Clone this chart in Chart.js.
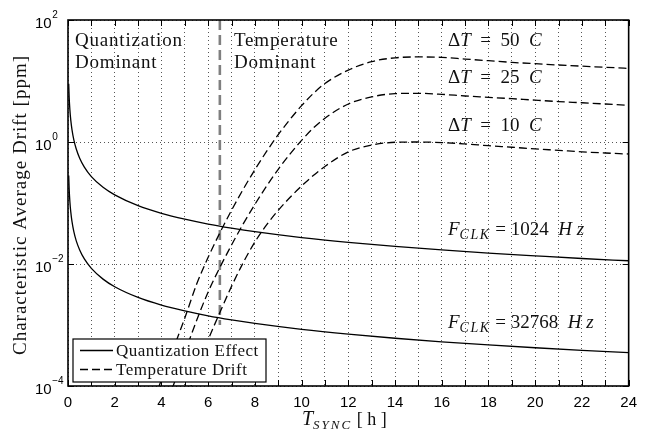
<!DOCTYPE html>
<html>
<head>
<meta charset="utf-8">
<script src="https://cdn.jsdelivr.net/npm/chart.js@4.4.1/dist/chart.umd.min.js"></script>
<style>
html,body{margin:0;padding:0;background:#fff;}
#wrap{width:645px;height:430px;}
</style>
</head>
<body>
<div id="wrap"><canvas id="myChart" width="645" height="430"></canvas></div>
<script>
// T_SYNC [h] for the quantization curves
const tQ = [0.03,0.05,0.08,0.12,0.17,0.25,0.35,0.5,0.7,1,1.5,2,3,4,5,6,7,8,10,12,14,16,18,20,22,24]
const q1024 = [9.04,5.43,3.39,2.26,1.6,1.085,0.775,0.543,0.388,0.271,0.181,0.136,0.0904,0.0678,0.0543,0.0452,0.0388,0.0339,0.0271,0.0226,0.0194,0.017,0.0151,0.0136,0.0123,0.0113]
const q32768 = [0.283,0.17,0.106,0.0707,0.0499,0.0339,0.0242,0.017,0.0121,0.00848,0.00565,0.00424,0.00283,0.00212,0.0017,0.00141,0.00121,0.00106,0.000848,0.000707,0.000606,0.00053,0.000471,0.000424,0.000385,0.000353]

// T_SYNC [h] for the temperature drift curves
const tD = [3.9,4.5,5,5.5,6,6.5,7,7.5,8,8.5,9,9.5,10,10.5,11,12,13,14,15,16,17,18,19,20,21,22,23,24]
const d50 = [1.0e-4,4.0e-4,1.3e-3,4.6e-3,0.0129,0.0324,0.0759,0.168,0.351,0.70,1.32,2.34,3.94,6.24,9.12,15.1,20.8,24.0,24.8,24.4,22.9,21.5,20.2,19.2,18.3,17.5,16.8,16.1]
const d25 = [2.5e-5,1.0e-4,3.5e-4,1.17e-3,3.49e-3,8.76e-3,0.0205,0.0454,0.0949,0.189,0.357,0.632,1.065,1.69,2.46,4.2,5.5,6.2,6.28,6.05,5.68,5.4,5.13,4.85,4.6,4.4,4.2,4.0]
const d10 = [4.0e-6,1.6e-5,5.0e-5,1.8e-4,5.7e-4,1.6e-3,4.3e-3,0.0105,0.0229,0.0437,0.0759,0.123,0.19,0.282,0.398,0.69,0.89,0.99,1.0,0.98,0.93,0.87,0.82,0.77,0.73,0.69,0.66,0.635]

// boundary between the two regions
const boundaryT = [6.5,6.5]
const boundaryY = [100,0.001]

const yTickValues = [1e-4,1e-2,1,1e2]
const yTickExp = ['−4','−2','0','2']

const ctx = document.getElementById('myChart')
const serif = '"Liberation Serif", "Times New Roman", serif'
const sans = '"Liberation Sans", Arial, sans-serif'

const pts = (xs, ys) => xs.map((x, i) => ({x: x, y: ys[i]}))

const drawRuns = (c, x, y, runs) => {
    let cx = x
    runs.forEach(r => {
        c.font = r.font
        c.letterSpacing = r.ls || '0px'
        c.fillText(r.t, cx, y + (r.dy || 0))
        cx += c.measureText(r.t).width
    })
    c.letterSpacing = '0px'
}

const decor = {
    id: 'decor',
    afterDatasetsDraw(chart) {
        const c = chart.ctx
        const a = chart.chartArea
        const xs = chart.scales.x
        const ys = chart.scales.y
        c.save()
        // frame
        c.strokeStyle = '#000'
        c.lineWidth = 1.6
        c.setLineDash([])
        c.strokeRect(a.left, a.top, a.right - a.left, a.bottom - a.top)
        // inward ticks
        c.lineWidth = 1
        c.beginPath()
        for (let v = 0; v <= 24; v++) {
            const px = Math.round(xs.getPixelForValue(v)) + 0.5
            c.moveTo(px, a.bottom); c.lineTo(px, a.bottom - 6)
            c.moveTo(px, a.top); c.lineTo(px, a.top + 6)
        }
        yTickValues.forEach(v => {
            const py = Math.round(ys.getPixelForValue(v)) + 0.5
            c.moveTo(a.left, py); c.lineTo(a.left + 6, py)
            c.moveTo(a.right, py); c.lineTo(a.right - 6, py)
        })
        c.stroke()

        // y tick labels with superscript exponents
        c.fillStyle = '#000'
        c.textAlign = 'left'
        c.textBaseline = 'alphabetic'
        yTickValues.forEach((v, i) => {
            const py = ys.getPixelForValue(v)
            c.font = '15px ' + sans
            c.fillText('10', 35, py + 7.5)
            const w = c.measureText('10').width
            c.font = '10px ' + sans
            c.fillText(yTickExp[i], 35 + w + 0.5, py - 2.5)
        })

        // region texts
        c.fillStyle = '#111'
        c.letterSpacing = '0.8px'
        c.font = '19px ' + serif
        c.fillText('Quantization', 75, 46)
        c.fillText('Dominant', 75, 68)
        c.fillText('Temperature', 234, 46)
        c.fillText('Dominant', 234, 68)
        c.letterSpacing = '0px'

        const up = '19px ' + serif
        const it = 'italic 19px ' + serif
        const sub = 'italic 14px ' + serif
        const dT = (y, n) => drawRuns(c, 448, y, [
            {t: 'Δ', font: up}, {t: 'T', font: it}, {t: '  =  ' + n + '  ', font: up}, {t: 'C', font: it}
        ])
        dT(46, '50')
        dT(83, '25')
        dT(131, '10')
        const fc = (y, n) => drawRuns(c, 448, y, [
            {t: 'F', font: it}, {t: 'CLK', font: sub, dy: 4, ls: '1.5px'}, {t: ' = ' + n + '  ', font: up},
            {t: 'H', font: it}, {t: ' z', font: it}
        ])
        fc(235, '1024')
        fc(328, '32768')

        // legend
        c.fillStyle = '#fff'
        c.fillRect(73, 339, 193, 43)
        c.strokeStyle = '#000'
        c.lineWidth = 1.2
        c.strokeRect(73, 339, 193, 43)
        c.lineWidth = 1.3
        c.beginPath(); c.moveTo(80, 350.5); c.lineTo(113, 350.5); c.stroke()
        c.setLineDash([8, 4])
        c.beginPath(); c.moveTo(80, 369.5); c.lineTo(113, 369.5); c.stroke()
        c.setLineDash([])
        c.fillStyle = '#111'
        c.font = '17px ' + serif
        c.letterSpacing = '0.5px'
        c.fillText('Quantization Effect', 116, 356)
        c.fillText('Temperature Drift', 116, 375)
        c.letterSpacing = '0px'

        // axis titles
        drawRuns(c, 302, 425, [
            {t: 'T', font: 'italic 20px ' + serif}, {t: 'SYNC', font: 'italic 13px ' + serif, dy: 4, ls: '2px'},
            {t: ' [ h ]', font: '18px ' + serif}
        ])
        c.save()
        c.translate(26, (a.top + a.bottom) / 2 + 2)
        c.rotate(-Math.PI / 2)
        c.textAlign = 'center'
        c.font = '19px ' + serif
        c.letterSpacing = '1px'
        c.fillText('Characteristic Average Drift [ppm]', 0, 0)
        c.restore()
        c.restore()
    }
}

const solid = {borderColor: '#000', borderWidth: 1.3, pointRadius: 0, fill: false, cubicInterpolationMode: 'monotone'}
const dashed = {borderColor: '#000', borderWidth: 1.3, pointRadius: 0, fill: false, cubicInterpolationMode: 'monotone', borderDash: [8, 4]}

const grafico = new Chart(ctx, {
    type: 'line',
    data: {
        datasets: [
            {...solid, label: 'F_CLK = 1024 Hz', data: pts(tQ, q1024)},
            {...solid, label: 'F_CLK = 32768 Hz', data: pts(tQ, q32768)},
            {...dashed, label: 'dT = 50 C', data: pts(tD, d50)},
            {...dashed, label: 'dT = 25 C', data: pts(tD, d25)},
            {...dashed, label: 'dT = 10 C', data: pts(tD, d10)},
            {label: 'boundary', data: pts(boundaryT, boundaryY), borderColor: '#7f7f7f', borderWidth: 2.6,
             borderDash: [10, 5], pointRadius: 0, fill: false}
        ]
    },
    options: {
        responsive: false,
        animation: false,
        devicePixelRatio: 1,
        layout: {padding: {top: 20, right: 8, left: 0, bottom: 0}},
        plugins: {legend: {display: false}, tooltip: {enabled: false}},
        scales: {
            x: {
                type: 'linear', min: 0, max: 24,
                afterFit: s => { s.height = 44 },
                border: {display: false, dash: [1, 3]},
                grid: {color: '#555', lineWidth: 1, drawTicks: false},
                ticks: {
                    stepSize: 1, autoSkip: false, maxRotation: 0, padding: 8, color: '#000',
                    font: {family: sans, size: 15},
                    callback: v => (v % 2 === 0 ? String(v) : '')
                }
            },
            y: {
                type: 'logarithmic', min: 1e-4, max: 1e2,
                afterFit: s => { s.width = 68 },
                afterBuildTicks: s => { s.ticks = yTickValues.map(v => ({value: v})) },
                border: {display: false, dash: [1, 3]},
                grid: {color: '#555', lineWidth: 1, drawTicks: false},
                ticks: {display: false}
            }
        }
    },
    plugins: [decor]
})
</script>
</body>
</html>
